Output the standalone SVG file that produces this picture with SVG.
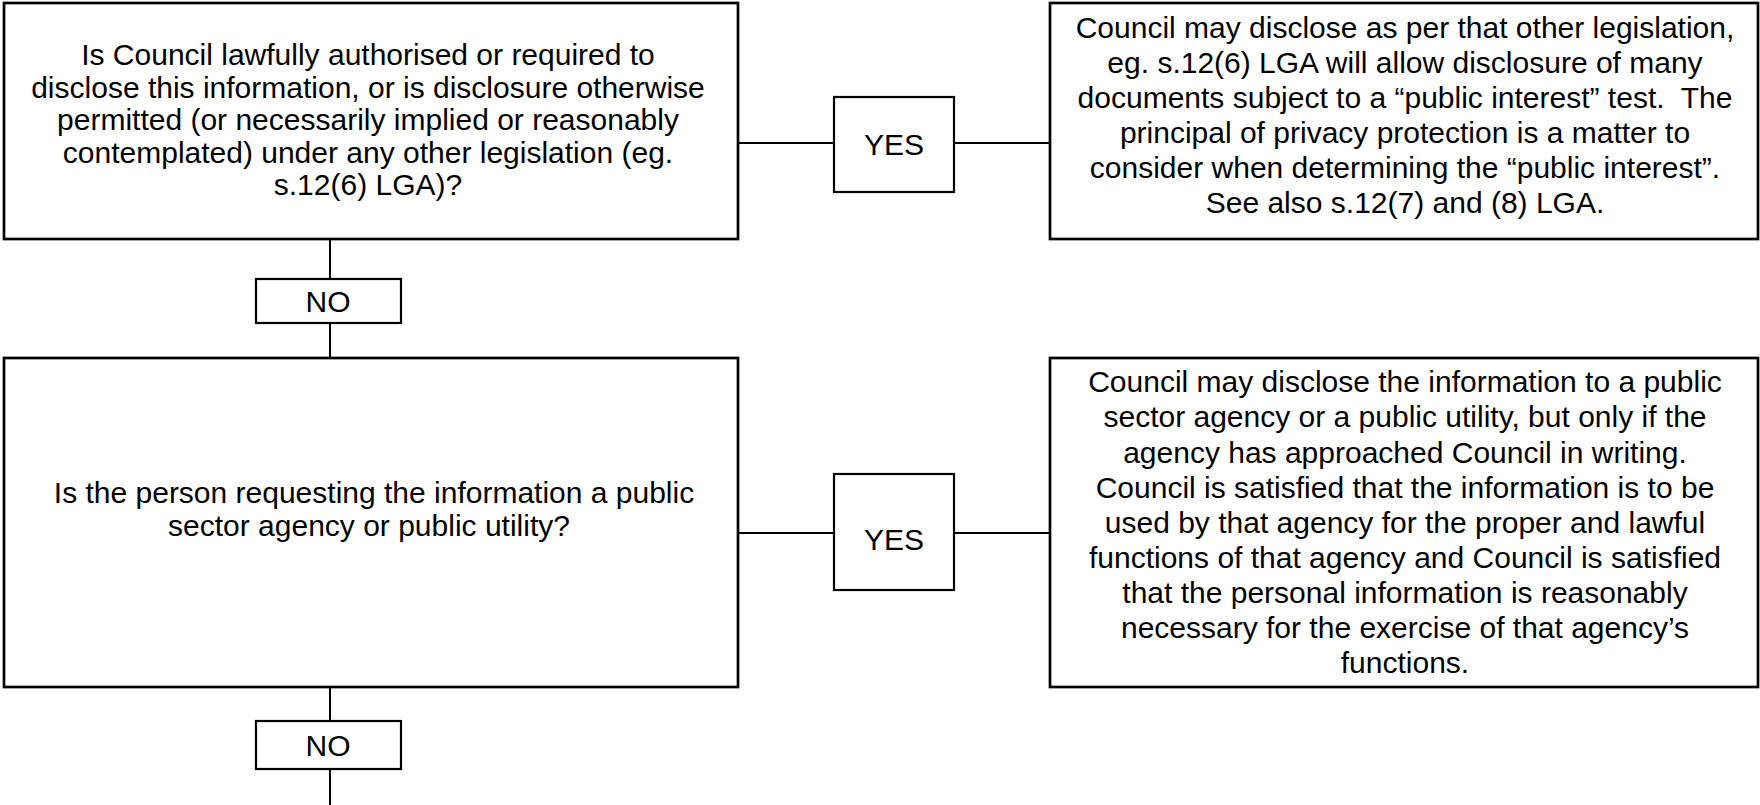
<svg xmlns="http://www.w3.org/2000/svg" width="1760" height="805" viewBox="0 0 1760 805">
  <style>
    .box { fill: #fff; stroke: #000; stroke-width: 2.7; }
    .lbl { fill: #fff; stroke: #000; stroke-width: 2.2; }
    .conn { stroke: #000; stroke-width: 2; fill: none; }
    text { font-family: "Liberation Sans", Arial, sans-serif; font-size: 30px; fill: #000; text-anchor: middle; }
  </style>
  <rect width="1760" height="805" fill="#fff"/>

  <!-- connectors -->
  <g id="connectors">
    <line class="conn" x1="738" y1="143" x2="834" y2="143"/>
    <line class="conn" x1="954" y1="143" x2="1050" y2="143"/>
    <line class="conn" x1="330" y1="239" x2="330" y2="279"/>
    <line class="conn" x1="330" y1="323" x2="330" y2="358"/>
    <line class="conn" x1="738" y1="533" x2="834" y2="533"/>
    <line class="conn" x1="954" y1="533" x2="1050" y2="533"/>
    <line class="conn" x1="330" y1="687" x2="330" y2="721"/>
    <line class="conn" x1="330" y1="769" x2="330" y2="805"/>
  </g>

  <!-- question 1 -->
  <g id="q1">
    <rect class="box" x="4" y="3" width="734" height="236"/>
    <text x="368" y="65">Is Council lawfully authorised or required to</text>
    <text x="368" y="97.5">disclose this information, or is disclosure otherwise</text>
    <text x="368" y="130">permitted (or necessarily implied or reasonably</text>
    <text x="368" y="162.5">contemplated) under any other legislation (eg.</text>
    <text x="368" y="195">s.12(6) LGA)?</text>
  </g>

  <g id="yes1">
    <rect class="lbl" x="834" y="97" width="120" height="95"/>
    <text x="894" y="155">YES</text>
  </g>

  <g id="a1">
    <rect class="box" x="1050" y="3" width="708" height="236"/>
    <text x="1405" y="38">Council may disclose as per that other legislation,</text>
    <text x="1405" y="73">eg. s.12(6) LGA will allow disclosure of many</text>
    <text x="1405" y="108" xml:space="preserve">documents subject to a “public interest” test.  The</text>
    <text x="1405" y="143">principal of privacy protection is a matter to</text>
    <text x="1405" y="178">consider when determining the “public interest”.</text>
    <text x="1405" y="213">See also s.12(7) and (8) LGA.</text>
  </g>

  <g id="no1">
    <rect class="lbl" x="256" y="279" width="145" height="44"/>
    <text x="328" y="312">NO</text>
  </g>

  <!-- question 2 -->
  <g id="q2">
    <rect class="box" x="4" y="358" width="734" height="329"/>
    <text x="374" y="503">Is the person requesting the information a public</text>
    <text x="369" y="536">sector agency or public utility?</text>
  </g>

  <g id="yes2">
    <rect class="lbl" x="834" y="474" width="120" height="116"/>
    <text x="894" y="550">YES</text>
  </g>

  <g id="a2">
    <rect class="box" x="1050" y="358" width="708" height="329"/>
    <text x="1405" y="392">Council may disclose the information to a public</text>
    <text x="1405" y="427">sector agency or a public utility, but only if the</text>
    <text x="1405" y="462.5">agency has approached Council in writing.</text>
    <text x="1405" y="497.5">Council is satisfied that the information is to be</text>
    <text x="1405" y="533">used by that agency for the proper and lawful</text>
    <text x="1405" y="568">functions of that agency and Council is satisfied</text>
    <text x="1405" y="603">that the personal information is reasonably</text>
    <text x="1405" y="638">necessary for the exercise of that agency’s</text>
    <text x="1405" y="673">functions.</text>
  </g>

  <g id="no2">
    <rect class="lbl" x="256" y="721" width="145" height="48"/>
    <text x="328" y="756">NO</text>
  </g>
</svg>
